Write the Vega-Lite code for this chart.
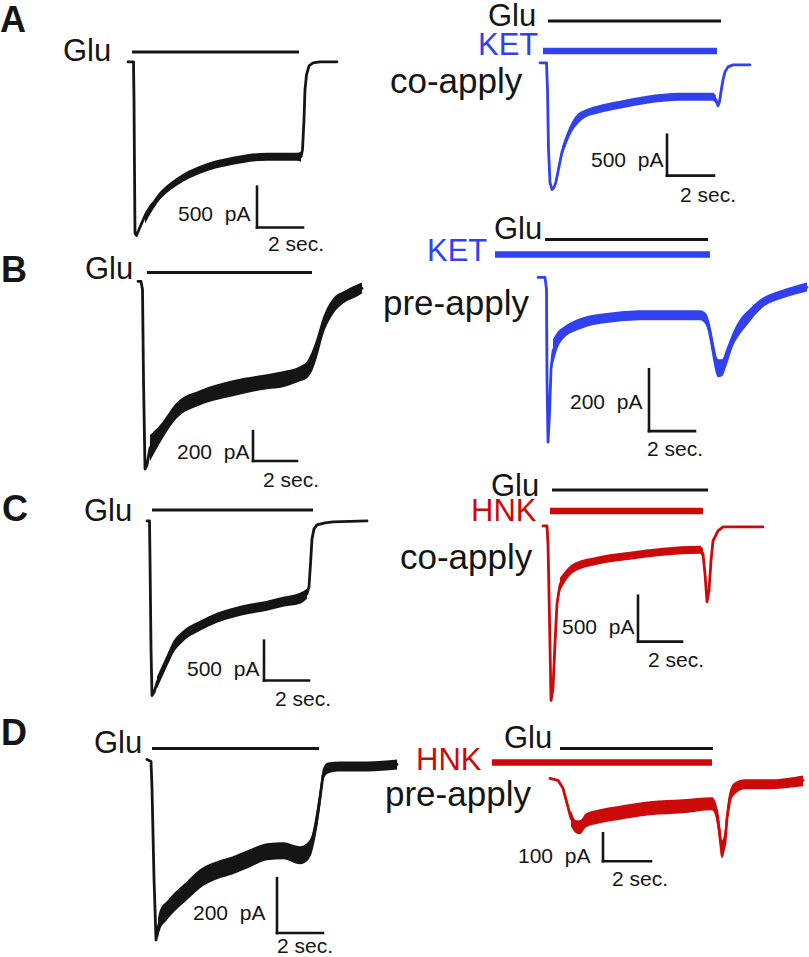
{
  "$schema": "https://vega.github.io/schema/vega-lite/v6.json",
  "width": 809,
  "height": 957,
  "autosize": {"type": "fit", "contains": "padding"},
  "padding": 0,
  "background": "white",
  "config": {"view": {"stroke": null}},
  "datasets": {
    "traces": [
      {"t":"A1","g":"ctl","x":128,"y":62},{"t":"A1","g":"ctl","x":133.5,"y":62},{"t":"A1","g":"ctl","x":134,"y":100},{"t":"A1","g":"ctl","x":134.5,"y":170},{"t":"A1","g":"ctl","x":135,"y":234},{"t":"A1","g":"ctl","x":136.5,"y":236},{"t":"A1","g":"ctl","x":139,"y":230},{"t":"A1","g":"ctl","x":142,"y":223},{"t":"A1","g":"ctl","x":146,"y":214},{"t":"A1","g":"ctl","x":151,"y":206},{"t":"A1","g":"ctl","x":157,"y":200},{"t":"A1","g":"ctl","x":165,"y":192},{"t":"A1","g":"ctl","x":177,"y":182},{"t":"A1","g":"ctl","x":188,"y":176},{"t":"A1","g":"ctl","x":200,"y":170},{"t":"A1","g":"ctl","x":215,"y":165},{"t":"A1","g":"ctl","x":233,"y":161},{"t":"A1","g":"ctl","x":250,"y":159},{"t":"A1","g":"ctl","x":267,"y":157},{"t":"A1","g":"ctl","x":282,"y":156},{"t":"A1","g":"ctl","x":297,"y":157},{"t":"A1","g":"ctl","x":301,"y":157},{"t":"A1","g":"ctl","x":302.5,"y":150},{"t":"A1","g":"ctl","x":304,"y":120},{"t":"A1","g":"ctl","x":305,"y":90},{"t":"A1","g":"ctl","x":306.5,"y":75},{"t":"A1","g":"ctl","x":309,"y":66},{"t":"A1","g":"ctl","x":313,"y":63},{"t":"A1","g":"ctl","x":320,"y":62},{"t":"A1","g":"ctl","x":337,"y":62},
      {"t":"A2","g":"ket","x":540,"y":63},{"t":"A2","g":"ket","x":546.5,"y":63},{"t":"A2","g":"ket","x":547.5,"y":90},{"t":"A2","g":"ket","x":548.5,"y":150},{"t":"A2","g":"ket","x":550,"y":183},{"t":"A2","g":"ket","x":552,"y":190},{"t":"A2","g":"ket","x":554,"y":188},{"t":"A2","g":"ket","x":556,"y":182},{"t":"A2","g":"ket","x":558,"y":172},{"t":"A2","g":"ket","x":562,"y":152},{"t":"A2","g":"ket","x":567,"y":138},{"t":"A2","g":"ket","x":572,"y":127},{"t":"A2","g":"ket","x":578,"y":119},{"t":"A2","g":"ket","x":585,"y":114},{"t":"A2","g":"ket","x":597,"y":110},{"t":"A2","g":"ket","x":610,"y":107},{"t":"A2","g":"ket","x":620,"y":105},{"t":"A2","g":"ket","x":635,"y":102},{"t":"A2","g":"ket","x":647,"y":100},{"t":"A2","g":"ket","x":665,"y":98},{"t":"A2","g":"ket","x":680,"y":97},{"t":"A2","g":"ket","x":700,"y":97},{"t":"A2","g":"ket","x":713,"y":97},{"t":"A2","g":"ket","x":716,"y":100},{"t":"A2","g":"ket","x":718,"y":106},{"t":"A2","g":"ket","x":719.5,"y":102},{"t":"A2","g":"ket","x":721,"y":92},{"t":"A2","g":"ket","x":723,"y":80},{"t":"A2","g":"ket","x":725,"y":72},{"t":"A2","g":"ket","x":728,"y":67},{"t":"A2","g":"ket","x":733,"y":65},{"t":"A2","g":"ket","x":750,"y":65},
      {"t":"B1","g":"ctl","x":138,"y":282},{"t":"B1","g":"ctl","x":141,"y":282},{"t":"B1","g":"ctl","x":142.5,"y":290},{"t":"B1","g":"ctl","x":143.5,"y":380},{"t":"B1","g":"ctl","x":145,"y":470},{"t":"B1","g":"ctl","x":147,"y":466},{"t":"B1","g":"ctl","x":150,"y":449},{"t":"B1","g":"ctl","x":155,"y":441},{"t":"B1","g":"ctl","x":160,"y":435},{"t":"B1","g":"ctl","x":168,"y":423},{"t":"B1","g":"ctl","x":177,"y":411},{"t":"B1","g":"ctl","x":188,"y":404},{"t":"B1","g":"ctl","x":200,"y":398},{"t":"B1","g":"ctl","x":215,"y":393},{"t":"B1","g":"ctl","x":233,"y":389},{"t":"B1","g":"ctl","x":250,"y":385},{"t":"B1","g":"ctl","x":267,"y":382},{"t":"B1","g":"ctl","x":283,"y":380},{"t":"B1","g":"ctl","x":300,"y":374},{"t":"B1","g":"ctl","x":307,"y":370},{"t":"B1","g":"ctl","x":312,"y":362},{"t":"B1","g":"ctl","x":317,"y":348},{"t":"B1","g":"ctl","x":320,"y":337},{"t":"B1","g":"ctl","x":323,"y":327},{"t":"B1","g":"ctl","x":328,"y":315},{"t":"B1","g":"ctl","x":333,"y":307},{"t":"B1","g":"ctl","x":345,"y":297},{"t":"B1","g":"ctl","x":357,"y":291},{"t":"B1","g":"ctl","x":362,"y":289},
      {"t":"B2","g":"ket","x":538,"y":278},{"t":"B2","g":"ket","x":545,"y":278},{"t":"B2","g":"ket","x":546.5,"y":290},{"t":"B2","g":"ket","x":547,"y":380},{"t":"B2","g":"ket","x":548,"y":443},{"t":"B2","g":"ket","x":549.5,"y":415},{"t":"B2","g":"ket","x":551,"y":370},{"t":"B2","g":"ket","x":553,"y":352},{"t":"B2","g":"ket","x":558,"y":340},{"t":"B2","g":"ket","x":563,"y":334},{"t":"B2","g":"ket","x":570,"y":329},{"t":"B2","g":"ket","x":580,"y":324},{"t":"B2","g":"ket","x":597,"y":320},{"t":"B2","g":"ket","x":613,"y":318},{"t":"B2","g":"ket","x":630,"y":317},{"t":"B2","g":"ket","x":647,"y":316},{"t":"B2","g":"ket","x":665,"y":316},{"t":"B2","g":"ket","x":680,"y":316},{"t":"B2","g":"ket","x":700,"y":316},{"t":"B2","g":"ket","x":706,"y":320},{"t":"B2","g":"ket","x":710,"y":333},{"t":"B2","g":"ket","x":713,"y":350},{"t":"B2","g":"ket","x":718,"y":369},{"t":"B2","g":"ket","x":722,"y":368},{"t":"B2","g":"ket","x":727,"y":356},{"t":"B2","g":"ket","x":733,"y":340},{"t":"B2","g":"ket","x":740,"y":327},{"t":"B2","g":"ket","x":747,"y":319},{"t":"B2","g":"ket","x":755,"y":311},{"t":"B2","g":"ket","x":763,"y":303},{"t":"B2","g":"ket","x":780,"y":296},{"t":"B2","g":"ket","x":795,"y":291},{"t":"B2","g":"ket","x":807,"y":288},
      {"t":"C1","g":"ctl","x":147,"y":522},{"t":"C1","g":"ctl","x":149.5,"y":522},{"t":"C1","g":"ctl","x":150,"y":560},{"t":"C1","g":"ctl","x":151,"y":650},{"t":"C1","g":"ctl","x":152,"y":697},{"t":"C1","g":"ctl","x":154,"y":694},{"t":"C1","g":"ctl","x":157,"y":684},{"t":"C1","g":"ctl","x":163,"y":670},{"t":"C1","g":"ctl","x":167,"y":662},{"t":"C1","g":"ctl","x":173,"y":649},{"t":"C1","g":"ctl","x":183,"y":637},{"t":"C1","g":"ctl","x":200,"y":627},{"t":"C1","g":"ctl","x":217,"y":619},{"t":"C1","g":"ctl","x":233,"y":614},{"t":"C1","g":"ctl","x":250,"y":610},{"t":"C1","g":"ctl","x":267,"y":607},{"t":"C1","g":"ctl","x":283,"y":603},{"t":"C1","g":"ctl","x":300,"y":599},{"t":"C1","g":"ctl","x":307,"y":595},{"t":"C1","g":"ctl","x":309,"y":588},{"t":"C1","g":"ctl","x":310.5,"y":565},{"t":"C1","g":"ctl","x":312,"y":540},{"t":"C1","g":"ctl","x":314,"y":530},{"t":"C1","g":"ctl","x":317,"y":526},{"t":"C1","g":"ctl","x":325,"y":524},{"t":"C1","g":"ctl","x":333,"y":523},{"t":"C1","g":"ctl","x":367,"y":522},
      {"t":"C2","g":"hnk","x":543,"y":527},{"t":"C2","g":"hnk","x":547,"y":527},{"t":"C2","g":"hnk","x":548,"y":545},{"t":"C2","g":"hnk","x":549.5,"y":620},{"t":"C2","g":"hnk","x":551,"y":702},{"t":"C2","g":"hnk","x":553,"y":690},{"t":"C2","g":"hnk","x":555,"y":645},{"t":"C2","g":"hnk","x":557,"y":605},{"t":"C2","g":"hnk","x":560,"y":586},{"t":"C2","g":"hnk","x":565,"y":576},{"t":"C2","g":"hnk","x":573,"y":569},{"t":"C2","g":"hnk","x":585,"y":565},{"t":"C2","g":"hnk","x":597,"y":562},{"t":"C2","g":"hnk","x":613,"y":559},{"t":"C2","g":"hnk","x":630,"y":557},{"t":"C2","g":"hnk","x":647,"y":555},{"t":"C2","g":"hnk","x":663,"y":553},{"t":"C2","g":"hnk","x":680,"y":552},{"t":"C2","g":"hnk","x":700,"y":551},{"t":"C2","g":"hnk","x":703,"y":555},{"t":"C2","g":"hnk","x":705,"y":575},{"t":"C2","g":"hnk","x":707,"y":603},{"t":"C2","g":"hnk","x":709,"y":592},{"t":"C2","g":"hnk","x":711,"y":562},{"t":"C2","g":"hnk","x":713,"y":542},{"t":"C2","g":"hnk","x":718,"y":532},{"t":"C2","g":"hnk","x":723,"y":528},{"t":"C2","g":"hnk","x":763,"y":528},
      {"t":"D1","g":"ctl","x":147,"y":761},{"t":"D1","g":"ctl","x":151,"y":763},{"t":"D1","g":"ctl","x":152,"y":790},{"t":"D1","g":"ctl","x":154,"y":880},{"t":"D1","g":"ctl","x":156,"y":942},{"t":"D1","g":"ctl","x":158,"y":930},{"t":"D1","g":"ctl","x":160,"y":922},{"t":"D1","g":"ctl","x":167,"y":912},{"t":"D1","g":"ctl","x":173,"y":905},{"t":"D1","g":"ctl","x":187,"y":893},{"t":"D1","g":"ctl","x":200,"y":880},{"t":"D1","g":"ctl","x":217,"y":872},{"t":"D1","g":"ctl","x":233,"y":867},{"t":"D1","g":"ctl","x":250,"y":860},{"t":"D1","g":"ctl","x":267,"y":853},{"t":"D1","g":"ctl","x":283,"y":852},{"t":"D1","g":"ctl","x":300,"y":857},{"t":"D1","g":"ctl","x":308,"y":853},{"t":"D1","g":"ctl","x":312,"y":845},{"t":"D1","g":"ctl","x":316,"y":826},{"t":"D1","g":"ctl","x":320,"y":800},{"t":"D1","g":"ctl","x":323,"y":777},{"t":"D1","g":"ctl","x":328,"y":770},{"t":"D1","g":"ctl","x":340,"y":768},{"t":"D1","g":"ctl","x":367,"y":768},{"t":"D1","g":"ctl","x":397,"y":766},
      {"t":"D2","g":"hnk","x":550,"y":780},{"t":"D2","g":"hnk","x":558,"y":782},{"t":"D2","g":"hnk","x":563,"y":790},{"t":"D2","g":"hnk","x":567,"y":805},{"t":"D2","g":"hnk","x":571,"y":820},{"t":"D2","g":"hnk","x":576,"y":828},{"t":"D2","g":"hnk","x":580,"y":829},{"t":"D2","g":"hnk","x":586,"y":822},{"t":"D2","g":"hnk","x":600,"y":818},{"t":"D2","g":"hnk","x":617,"y":815},{"t":"D2","g":"hnk","x":650,"y":810},{"t":"D2","g":"hnk","x":683,"y":808},{"t":"D2","g":"hnk","x":712,"y":806},{"t":"D2","g":"hnk","x":716,"y":812},{"t":"D2","g":"hnk","x":719,"y":830},{"t":"D2","g":"hnk","x":722,"y":857},{"t":"D2","g":"hnk","x":725,"y":845},{"t":"D2","g":"hnk","x":727,"y":820},{"t":"D2","g":"hnk","x":730,"y":800},{"t":"D2","g":"hnk","x":735,"y":790},{"t":"D2","g":"hnk","x":745,"y":786},{"t":"D2","g":"hnk","x":767,"y":786},{"t":"D2","g":"hnk","x":803,"y":782}
    ],
    "bands": [
      {"t":"A1","g":"ctl","x":145,"lo":215,"hi":224},{"t":"A1","g":"ctl","x":157,"lo":196,"hi":204},{"t":"A1","g":"ctl","x":177,"lo":178,"hi":186},{"t":"A1","g":"ctl","x":200,"lo":166,"hi":174},{"t":"A1","g":"ctl","x":233,"lo":157,"hi":165},{"t":"A1","g":"ctl","x":267,"lo":153,"hi":161},{"t":"A1","g":"ctl","x":297,"lo":153,"hi":161},{"t":"A1","g":"ctl","x":301,"lo":152,"hi":162},
      {"t":"A2","g":"ket","x":562,"lo":147,"hi":157},{"t":"A2","g":"ket","x":567,"lo":133,"hi":143},{"t":"A2","g":"ket","x":572,"lo":122,"hi":132},{"t":"A2","g":"ket","x":578,"lo":114,"hi":124},{"t":"A2","g":"ket","x":585,"lo":110,"hi":118},{"t":"A2","g":"ket","x":597,"lo":106,"hi":114},{"t":"A2","g":"ket","x":620,"lo":101,"hi":109},{"t":"A2","g":"ket","x":647,"lo":96,"hi":104},{"t":"A2","g":"ket","x":680,"lo":93,"hi":101},{"t":"A2","g":"ket","x":713,"lo":93,"hi":101},{"t":"A2","g":"ket","x":716,"lo":96,"hi":104},
      {"t":"B1","g":"ctl","x":150,"lo":436,"hi":462},{"t":"B1","g":"ctl","x":160,"lo":426,"hi":444},{"t":"B1","g":"ctl","x":177,"lo":403,"hi":419},{"t":"B1","g":"ctl","x":200,"lo":391,"hi":406},{"t":"B1","g":"ctl","x":233,"lo":381,"hi":397},{"t":"B1","g":"ctl","x":267,"lo":375,"hi":390},{"t":"B1","g":"ctl","x":283,"lo":372,"hi":388},{"t":"B1","g":"ctl","x":300,"lo":367,"hi":382},{"t":"B1","g":"ctl","x":307,"lo":362,"hi":379},{"t":"B1","g":"ctl","x":312,"lo":352,"hi":372},{"t":"B1","g":"ctl","x":317,"lo":338,"hi":358},{"t":"B1","g":"ctl","x":323,"lo":318,"hi":336},{"t":"B1","g":"ctl","x":333,"lo":299,"hi":315},{"t":"B1","g":"ctl","x":345,"lo":291,"hi":303},{"t":"B1","g":"ctl","x":357,"lo":285,"hi":297},{"t":"B1","g":"ctl","x":362,"lo":283,"hi":294},
      {"t":"B2","g":"ket","x":553,"lo":340,"hi":365},{"t":"B2","g":"ket","x":558,"lo":332,"hi":348},{"t":"B2","g":"ket","x":563,"lo":328,"hi":340},{"t":"B2","g":"ket","x":580,"lo":319,"hi":330},{"t":"B2","g":"ket","x":613,"lo":313,"hi":323},{"t":"B2","g":"ket","x":647,"lo":311,"hi":321},{"t":"B2","g":"ket","x":680,"lo":311,"hi":321},{"t":"B2","g":"ket","x":700,"lo":311,"hi":321},{"t":"B2","g":"ket","x":706,"lo":314,"hi":326},{"t":"B2","g":"ket","x":710,"lo":325,"hi":342},{"t":"B2","g":"ket","x":713,"lo":340,"hi":360},{"t":"B2","g":"ket","x":718,"lo":360,"hi":378},{"t":"B2","g":"ket","x":722,"lo":360,"hi":377},{"t":"B2","g":"ket","x":727,"lo":348,"hi":365},{"t":"B2","g":"ket","x":733,"lo":333,"hi":347},{"t":"B2","g":"ket","x":740,"lo":320,"hi":335},{"t":"B2","g":"ket","x":747,"lo":312,"hi":326},{"t":"B2","g":"ket","x":763,"lo":298,"hi":308},{"t":"B2","g":"ket","x":780,"lo":291,"hi":300},{"t":"B2","g":"ket","x":807,"lo":283,"hi":292},
      {"t":"C1","g":"ctl","x":157,"lo":678,"hi":690},{"t":"C1","g":"ctl","x":167,"lo":656,"hi":668},{"t":"C1","g":"ctl","x":173,"lo":643,"hi":655},{"t":"C1","g":"ctl","x":183,"lo":632,"hi":643},{"t":"C1","g":"ctl","x":200,"lo":622,"hi":632},{"t":"C1","g":"ctl","x":217,"lo":614,"hi":624},{"t":"C1","g":"ctl","x":233,"lo":609,"hi":619},{"t":"C1","g":"ctl","x":250,"lo":605,"hi":615},{"t":"C1","g":"ctl","x":267,"lo":602,"hi":612},{"t":"C1","g":"ctl","x":283,"lo":598,"hi":608},{"t":"C1","g":"ctl","x":300,"lo":594,"hi":605},{"t":"C1","g":"ctl","x":307,"lo":590,"hi":600},
      {"t":"C2","g":"hnk","x":560,"lo":579,"hi":592},{"t":"C2","g":"hnk","x":573,"lo":565,"hi":574},{"t":"C2","g":"hnk","x":597,"lo":558,"hi":566},{"t":"C2","g":"hnk","x":630,"lo":553,"hi":561},{"t":"C2","g":"hnk","x":663,"lo":549,"hi":557},{"t":"C2","g":"hnk","x":700,"lo":547,"hi":555},{"t":"C2","g":"hnk","x":703,"lo":550,"hi":560},
      {"t":"D1","g":"ctl","x":158,"lo":920,"hi":940},{"t":"D1","g":"ctl","x":160,"lo":912,"hi":932},{"t":"D1","g":"ctl","x":167,"lo":903,"hi":922},{"t":"D1","g":"ctl","x":173,"lo":896,"hi":915},{"t":"D1","g":"ctl","x":187,"lo":883,"hi":902},{"t":"D1","g":"ctl","x":200,"lo":871,"hi":890},{"t":"D1","g":"ctl","x":217,"lo":863,"hi":881},{"t":"D1","g":"ctl","x":233,"lo":858,"hi":876},{"t":"D1","g":"ctl","x":250,"lo":851,"hi":869},{"t":"D1","g":"ctl","x":267,"lo":845,"hi":862},{"t":"D1","g":"ctl","x":283,"lo":844,"hi":861},{"t":"D1","g":"ctl","x":300,"lo":848,"hi":866},{"t":"D1","g":"ctl","x":308,"lo":844,"hi":862},{"t":"D1","g":"ctl","x":312,"lo":836,"hi":854},{"t":"D1","g":"ctl","x":316,"lo":816,"hi":836},{"t":"D1","g":"ctl","x":320,"lo":790,"hi":810},{"t":"D1","g":"ctl","x":323,"lo":770,"hi":783},{"t":"D1","g":"ctl","x":328,"lo":764,"hi":775},{"t":"D1","g":"ctl","x":340,"lo":763,"hi":773},{"t":"D1","g":"ctl","x":367,"lo":763,"hi":773},{"t":"D1","g":"ctl","x":397,"lo":761,"hi":771},
      {"t":"D2","g":"hnk","x":571,"lo":812,"hi":828},{"t":"D2","g":"hnk","x":576,"lo":822,"hi":835},{"t":"D2","g":"hnk","x":580,"lo":822,"hi":836},{"t":"D2","g":"hnk","x":586,"lo":815,"hi":829},{"t":"D2","g":"hnk","x":600,"lo":811,"hi":825},{"t":"D2","g":"hnk","x":617,"lo":808,"hi":822},{"t":"D2","g":"hnk","x":650,"lo":803,"hi":817},{"t":"D2","g":"hnk","x":683,"lo":801,"hi":815},{"t":"D2","g":"hnk","x":712,"lo":799,"hi":812},{"t":"D2","g":"hnk","x":716,"lo":805,"hi":820},{"t":"D2","g":"hnk","x":719,"lo":818,"hi":840},{"t":"D2","g":"hnk","x":722,"lo":842,"hi":860},{"t":"D2","g":"hnk","x":725,"lo":830,"hi":848},{"t":"D2","g":"hnk","x":727,"lo":810,"hi":828},{"t":"D2","g":"hnk","x":730,"lo":792,"hi":806},{"t":"D2","g":"hnk","x":735,"lo":784,"hi":796},{"t":"D2","g":"hnk","x":745,"lo":781,"hi":791},{"t":"D2","g":"hnk","x":767,"lo":781,"hi":791},{"t":"D2","g":"hnk","x":803,"lo":777,"hi":788}
    ],
    "segs": [
      {"k":"glu","g":"ctl","x1":132,"y1":52,"x2":299,"y2":52},
      {"k":"glu","g":"ctl","x1":548,"y1":21,"x2":721,"y2":21},
      {"k":"glu","g":"ctl","x1":147,"y1":273,"x2":312,"y2":273},
      {"k":"glu","g":"ctl","x1":545,"y1":240,"x2":708,"y2":240},
      {"k":"glu","g":"ctl","x1":152,"y1":511,"x2":313,"y2":511},
      {"k":"glu","g":"ctl","x1":552,"y1":491,"x2":708,"y2":491},
      {"k":"glu","g":"ctl","x1":152,"y1":750,"x2":319,"y2":750},
      {"k":"glu","g":"ctl","x1":560,"y1":750,"x2":713,"y2":750},
      {"k":"drug","g":"ket","x1":543,"y1":51,"x2":717,"y2":51},
      {"k":"drug","g":"ket","x1":495,"y1":255,"x2":710,"y2":255},
      {"k":"drug","g":"hnk","x1":550,"y1":512,"x2":703,"y2":512},
      {"k":"drug","g":"hnk","x1":492,"y1":764,"x2":712,"y2":764},
      {"k":"scale","g":"ctl","x1":257,"y1":187,"x2":257,"y2":228},
      {"k":"scale","g":"ctl","x1":257,"y1":228,"x2":303,"y2":228},
      {"k":"scale","g":"ctl","x1":667,"y1":135,"x2":667,"y2":176},
      {"k":"scale","g":"ctl","x1":667,"y1":176,"x2":714,"y2":176},
      {"k":"scale","g":"ctl","x1":253,"y1":432,"x2":253,"y2":462},
      {"k":"scale","g":"ctl","x1":253,"y1":462,"x2":297,"y2":462},
      {"k":"scale","g":"ctl","x1":649,"y1":370,"x2":649,"y2":432},
      {"k":"scale","g":"ctl","x1":649,"y1":432,"x2":695,"y2":432},
      {"k":"scale","g":"ctl","x1":264,"y1":642,"x2":264,"y2":682},
      {"k":"scale","g":"ctl","x1":264,"y1":682,"x2":309,"y2":682},
      {"k":"scale","g":"ctl","x1":638,"y1":597,"x2":638,"y2":643},
      {"k":"scale","g":"ctl","x1":638,"y1":643,"x2":682,"y2":643},
      {"k":"scale","g":"ctl","x1":277,"y1":880,"x2":277,"y2":935},
      {"k":"scale","g":"ctl","x1":277,"y1":935,"x2":323,"y2":935},
      {"k":"scale","g":"ctl","x1":603,"y1":835,"x2":603,"y2":863},
      {"k":"scale","g":"ctl","x1":603,"y1":863,"x2":651,"y2":863}
    ],
    "labels": [
      {"k":"letter","g":"ctl","s":"A","x":0,"y":32},
      {"k":"letter","g":"ctl","s":"B","x":1,"y":283},
      {"k":"letter","g":"ctl","s":"C","x":2,"y":522},
      {"k":"letter","g":"ctl","s":"D","x":1,"y":747},
      {"k":"drug","g":"ctl","s":"Glu","x":63,"y":61},
      {"k":"drug","g":"ctl","s":"Glu","x":488,"y":26},
      {"k":"drug","g":"ctl","s":"Glu","x":85,"y":280},
      {"k":"drug","g":"ctl","s":"Glu","x":494,"y":240},
      {"k":"drug","g":"ctl","s":"Glu","x":84,"y":522},
      {"k":"drug","g":"ctl","s":"Glu","x":491,"y":497},
      {"k":"drug","g":"ctl","s":"Glu","x":94,"y":755},
      {"k":"drug","g":"ctl","s":"Glu","x":504,"y":750},
      {"k":"drug","g":"ket","s":"KET","x":478,"y":55},
      {"k":"drug","g":"ket","s":"KET","x":427,"y":262},
      {"k":"drug","g":"hnk","s":"HNK","x":471,"y":522},
      {"k":"drug","g":"hnk","s":"HNK","x":416,"y":772},
      {"k":"mode","g":"ctl","s":"co-apply","x":390,"y":93},
      {"k":"mode","g":"ctl","s":"pre-apply","x":383,"y":316},
      {"k":"mode","g":"ctl","s":"co-apply","x":400,"y":570},
      {"k":"mode","g":"ctl","s":"pre-apply","x":385,"y":808},
      {"k":"scale","g":"ctl","s":"500\u00a0\u00a0pA","x":178,"y":221},
      {"k":"scale","g":"ctl","s":"2 sec.","x":268,"y":252},
      {"k":"scale","g":"ctl","s":"500\u00a0\u00a0pA","x":591,"y":167},
      {"k":"scale","g":"ctl","s":"2 sec.","x":680,"y":202},
      {"k":"scale","g":"ctl","s":"200\u00a0\u00a0pA","x":177,"y":460},
      {"k":"scale","g":"ctl","s":"2 sec.","x":263,"y":488},
      {"k":"scale","g":"ctl","s":"200\u00a0\u00a0pA","x":570,"y":410},
      {"k":"scale","g":"ctl","s":"2 sec.","x":647,"y":457},
      {"k":"scale","g":"ctl","s":"500\u00a0\u00a0pA","x":187,"y":677},
      {"k":"scale","g":"ctl","s":"2 sec.","x":275,"y":707},
      {"k":"scale","g":"ctl","s":"500\u00a0\u00a0pA","x":562,"y":635},
      {"k":"scale","g":"ctl","s":"2 sec.","x":648,"y":668},
      {"k":"scale","g":"ctl","s":"200\u00a0\u00a0pA","x":193,"y":922},
      {"k":"scale","g":"ctl","s":"2 sec.","x":277,"y":955},
      {"k":"scale","g":"ctl","s":"100\u00a0\u00a0pA","x":518,"y":865},
      {"k":"scale","g":"ctl","s":"2 sec.","x":612,"y":888}
    ]
  },
  "encoding": {
    "x": {"field": "x", "type": "quantitative", "scale": {"domain": [0, 809], "nice": false, "zero": false}, "axis": null},
    "color": {"field": "g", "type": "nominal", "scale": {"domain": ["ctl", "ket", "hnk"], "range": ["#151515", "#3141ee", "#cc0a0a"]}, "legend": null}
  },
  "layer": [
    {
      "data": {"name": "bands"},
      "mark": {"type": "area", "interpolate": "monotone"},
      "encoding": {
        "y": {"field": "lo", "type": "quantitative", "scale": {"domain": [0, 957], "nice": false, "zero": false, "reverse": true}, "axis": null},
        "y2": {"field": "hi"},
        "detail": {"field": "t"}
      }
    },
    {
      "data": {"name": "traces"},
      "mark": {"type": "line", "strokeWidth": 2.8, "strokeCap": "round", "strokeJoin": "round"},
      "encoding": {
        "y": {"field": "y", "type": "quantitative", "scale": {"domain": [0, 957], "nice": false, "zero": false, "reverse": true}, "axis": null},
        "detail": {"field": "t"},
        "order": {"field": "x", "type": "quantitative"}
      }
    },
    {
      "data": {"name": "segs"},
      "transform": [{"filter": "datum.k === 'glu'"}],
      "mark": {"type": "rule", "strokeWidth": 3, "strokeCap": "butt"},
      "encoding": {
        "x": {"field": "x1", "type": "quantitative", "scale": {"domain": [0, 809], "nice": false, "zero": false}, "axis": null},
        "x2": {"field": "x2"},
        "y": {"field": "y1", "type": "quantitative", "scale": {"domain": [0, 957], "nice": false, "zero": false, "reverse": true}, "axis": null},
        "y2": {"field": "y2"}
      }
    },
    {
      "data": {"name": "segs"},
      "transform": [{"filter": "datum.k === 'drug'"}],
      "mark": {"type": "rule", "strokeWidth": 6.5, "strokeCap": "butt"},
      "encoding": {
        "x": {"field": "x1", "type": "quantitative", "scale": {"domain": [0, 809], "nice": false, "zero": false}, "axis": null},
        "x2": {"field": "x2"},
        "y": {"field": "y1", "type": "quantitative", "scale": {"domain": [0, 957], "nice": false, "zero": false, "reverse": true}, "axis": null},
        "y2": {"field": "y2"}
      }
    },
    {
      "data": {"name": "segs"},
      "transform": [{"filter": "datum.k === 'scale'"}],
      "mark": {"type": "rule", "strokeWidth": 2.6, "strokeCap": "square"},
      "encoding": {
        "x": {"field": "x1", "type": "quantitative", "scale": {"domain": [0, 809], "nice": false, "zero": false}, "axis": null},
        "x2": {"field": "x2"},
        "y": {"field": "y1", "type": "quantitative", "scale": {"domain": [0, 957], "nice": false, "zero": false, "reverse": true}, "axis": null},
        "y2": {"field": "y2"}
      }
    },
    {
      "data": {"name": "labels"},
      "transform": [{"filter": "datum.k === 'letter'"}],
      "mark": {"type": "text", "align": "left", "baseline": "alphabetic", "font": "Liberation Sans", "fontWeight": "bold", "fontSize": 36},
      "encoding": {
        "y": {"field": "y", "type": "quantitative", "scale": {"domain": [0, 957], "nice": false, "zero": false, "reverse": true}, "axis": null},
        "text": {"field": "s"}
      }
    },
    {
      "data": {"name": "labels"},
      "transform": [{"filter": "datum.k === 'drug'"}],
      "mark": {"type": "text", "align": "left", "baseline": "alphabetic", "font": "Liberation Sans", "fontSize": 31},
      "encoding": {
        "y": {"field": "y", "type": "quantitative", "scale": {"domain": [0, 957], "nice": false, "zero": false, "reverse": true}, "axis": null},
        "text": {"field": "s"}
      }
    },
    {
      "data": {"name": "labels"},
      "transform": [{"filter": "datum.k === 'mode'"}],
      "mark": {"type": "text", "align": "left", "baseline": "alphabetic", "font": "Liberation Sans", "fontSize": 35},
      "encoding": {
        "y": {"field": "y", "type": "quantitative", "scale": {"domain": [0, 957], "nice": false, "zero": false, "reverse": true}, "axis": null},
        "text": {"field": "s"}
      }
    },
    {
      "data": {"name": "labels"},
      "transform": [{"filter": "datum.k === 'scale'"}],
      "mark": {"type": "text", "align": "left", "baseline": "alphabetic", "font": "Liberation Sans", "fontSize": 21},
      "encoding": {
        "y": {"field": "y", "type": "quantitative", "scale": {"domain": [0, 957], "nice": false, "zero": false, "reverse": true}, "axis": null},
        "text": {"field": "s"}
      }
    }
  ]
}
